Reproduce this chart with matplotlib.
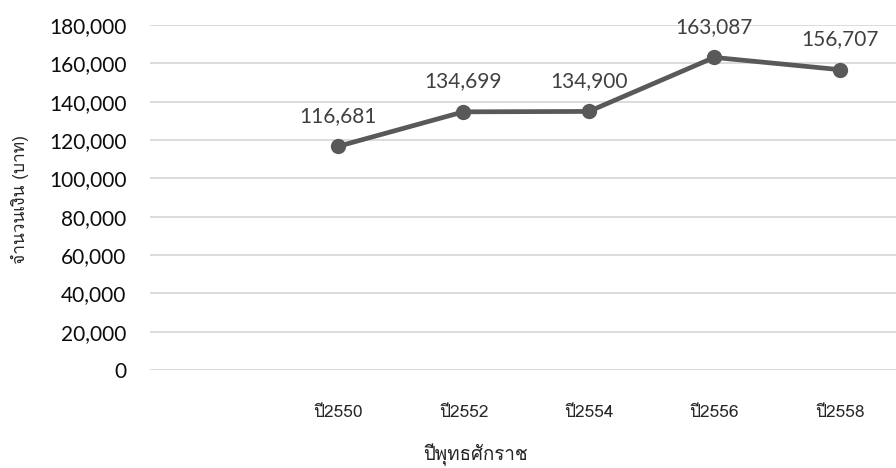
import matplotlib
matplotlib.use("Agg")
import matplotlib.pyplot as plt
from matplotlib import font_manager
from matplotlib.ticker import FuncFormatter

categories = ["", "ปี2550", "ปี2552", "ปี2554", "ปี2556", "ปี2558"]
values = [None, 116681, 134699, 134900, 163087, 156707]
y_ticks = [0, 20000, 40000, 60000, 80000, 100000, 120000, 140000, 160000, 180000]
x_title = "ปีพุทธศักราช"
y_title = "จำนวนเงิน (บาท)"

# find a font with Thai glyphs
thai_font = None
try:
    from fontTools.ttLib import TTFont
    for fe in font_manager.fontManager.ttflist:
        try:
            f = TTFont(fe.fname, fontNumber=0, lazy=True)
            cmap = f.getBestCmap()
            if cmap and 0x0E1B in cmap and 0x0E35 in cmap:
                thai_font = fe.name
                break
        except Exception:
            pass
except Exception:
    pass
thai_family = [thai_font, "DejaVu Sans"] if thai_font else ["DejaVu Sans"]
num_family = ["Lato", "DejaVu Sans"]

fig = plt.figure(figsize=(8.96, 4.68), dpi=100)
ax = fig.add_axes([150 / 896, 1 - 370 / 468, 1 - 150 / 896, (370 - 25) / 468])

xs = [i for i, v in enumerate(values) if v is not None]
ys = [v for v in values if v is not None]
ax.plot(xs, ys, color="#595959", linewidth=3.4, marker="o", markersize=10,
        solid_capstyle="round", zorder=3)
for x, y in zip(xs, ys):
    ax.annotate(f"{y:,}", (x, y), xytext=(0, 22), textcoords="offset points",
                ha="center", va="center", fontsize=15, color="#404040",
                family=num_family)

ax.set_xlim(-0.5, 5.45)
ax.set_ylim(0, 180000)
ax.set_yticks(y_ticks)
ax.yaxis.set_major_formatter(FuncFormatter(lambda v, p: f"{int(v):,}"))
ax.set_xticks(range(len(categories)))
ax.set_xticklabels(categories, family=thai_family, fontsize=12.5, color="#262626")
for lab in ax.get_yticklabels():
    lab.set_family(num_family)
    lab.set_fontsize(15)
    lab.set_color("#0d0d0d")
ax.tick_params(axis="both", length=0)
ax.tick_params(axis="y", pad=17)
ax.tick_params(axis="x", pad=25)
ax.grid(axis="y", color="#d9d9d9", linewidth=1.3)
ax.set_axisbelow(True)
for s in ax.spines.values():
    s.set_visible(False)

fig.text(475 / 896, 1 - 455 / 468, x_title, ha="center", va="center",
         family=thai_family, fontsize=13.5, color="#262626")
fig.text(20 / 896, 1 - 199 / 468, y_title, ha="center", va="center",
         rotation=90, family=thai_family, fontsize=12.5, color="#262626")

fig.savefig("out.png", dpi=100)
